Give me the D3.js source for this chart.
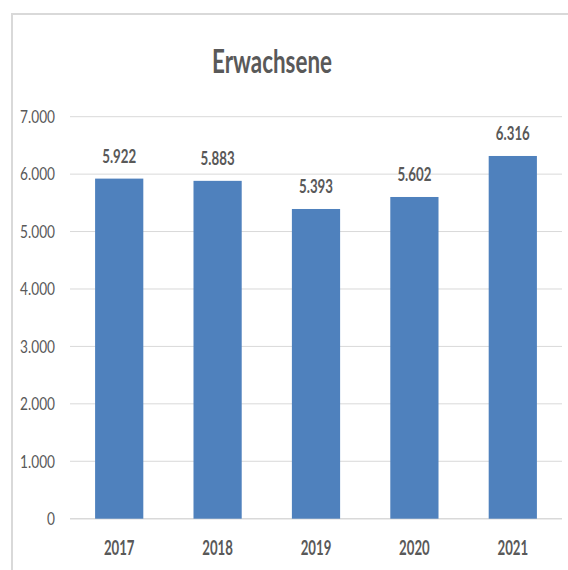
<!DOCTYPE html>
<html>
<head>
<meta charset="utf-8">
<script src="https://cdn.jsdelivr.net/npm/d3@7"></script>
<style>
  body { margin: 0; background: #fff; }
  svg text { font-family: Lato, "Open Sans", sans-serif; fill: #595959; }
</style>
</head>
<body>
<div id="chart"></div>
<script>
// data
let years = ["2017", "2018", "2019", "2020", "2021"];
let adults = [5922, 5883, 5393, 5602, 6316];
let yTicks = [0, 1000, 2000, 3000, 4000, 5000, 6000, 7000];

function drawChart() {
	let width = 568, height = 570;

	let svg = d3.select("#chart")
		.append("svg")
		.attr("width", width)
		.attr("height", height);

	// chart frame (runs off the right and bottom edges)
	svg.append("rect")
		.attr("x", 12).attr("y", 14)
		.attr("width", 600).attr("height", 600)
		.attr("fill", "none")
		.attr("stroke", "#d9d9d9")
		.attr("stroke-width", 2);

	let plot = { left: 70, right: 562, top: 116.7, bottom: 518.7 };

	let xScale = d3.scaleBand()
		.domain(years)
		.range([plot.left, plot.right])
		.paddingInner(0.51)
		.paddingOuter(0.255);
	let yScale = d3.scaleLinear()
		.domain([0, 7000])
		.range([plot.bottom, plot.top]);

	let fmt = d3.formatLocale({ decimal: ",", thousands: ".", grouping: [3], currency: ["", "€"] }).format(",d");

	// the text in the picture is horizontally squashed
	function squashed(sel, x, y, k) {
		sel.attr("transform", "translate(" + x + "," + y + ") scale(" + k + ",1)");
	}

	// gridlines
	svg.append("g")
		.selectAll("line")
		.data(yTicks)
		.enter().append("line")
		.attr("x1", plot.left)
		.attr("x2", plot.right)
		.attr("y1", function (d) { return yScale(d); })
		.attr("y2", function (d) { return yScale(d); })
		.attr("stroke", "#d9d9d9")
		.attr("stroke-width", function (d) { return d === 0 ? 1.5 : 1; });

	// y tick labels
	svg.append("g")
		.selectAll("text")
		.data(yTicks)
		.enter().append("text")
		.attr("text-anchor", "end")
		.attr("dy", "0.35em")
		.style("font-size", "18px")
		.each(function (d) { squashed(d3.select(this), 55, yScale(d), 0.76); })
		.text(function (d) { return fmt(d); });

	// bars
	svg.append("g")
		.selectAll("rect")
		.data(adults)
		.enter().append("rect")
		.attr("x", function (d, i) { return xScale(years[i]); })
		.attr("y", function (d) { return yScale(d); })
		.attr("width", xScale.bandwidth())
		.attr("height", function (d) { return yScale(0) - yScale(d); })
		.attr("fill", "#4f81bd");

	// value labels
	svg.append("g")
		.selectAll("text")
		.data(adults)
		.enter().append("text")
		.attr("text-anchor", "middle")
		.style("font-size", "19px")
		.style("font-weight", "bold")
		.each(function (d, i) {
			squashed(d3.select(this), xScale(years[i]) + xScale.bandwidth() / 2, yScale(d) - 16, 0.7);
		})
		.text(function (d) { return fmt(d); });

	// x labels
	svg.append("g")
		.selectAll("text")
		.data(years)
		.enter().append("text")
		.attr("text-anchor", "middle")
		.style("font-size", "20px")
		.style("font-weight", "bold")
		.each(function (d) {
			squashed(d3.select(this), xScale(d) + xScale.bandwidth() / 2, 555, 0.66);
		})
		.text(function (d) { return d; });

	// title
	svg.append("text")
		.attr("text-anchor", "middle")
		.style("font-size", "32px")
		.style("font-weight", "bold")
		.call(squashed, 272, 73, 0.7)
		.text("Erwachsene");
}

drawChart();
</script>
</body>
</html>
